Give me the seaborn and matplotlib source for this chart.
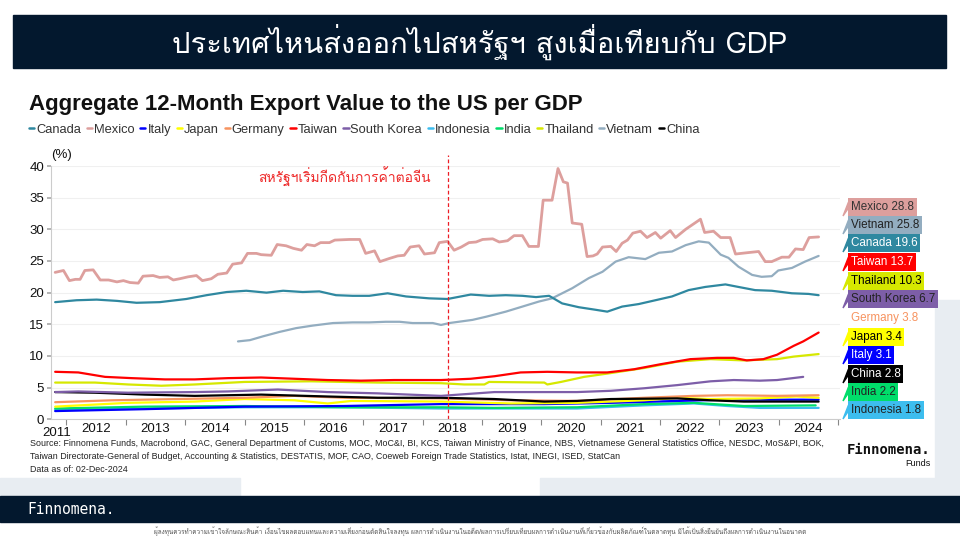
import numpy as np
import pandas as pd
import matplotlib
matplotlib.use("Agg")
import matplotlib.pyplot as plt
import seaborn as sns
from matplotlib import font_manager, ft2font
from matplotlib.lines import Line2D
from matplotlib.patches import Rectangle, Polygon

# ---- data (decimal year, % of GDP) ----
MEXICO = [(2011.81, 23.2), (2011.95, 23.5), (2012.05, 21.9), (2012.15, 22.1), (2012.23, 22.1),
          (2012.31, 23.5), (2012.45, 23.6), (2012.57, 22.0), (2012.71, 22.0), (2012.85, 21.7),
          (2012.96, 21.9), (2013.07, 21.6), (2013.21, 21.5), (2013.29, 22.6), (2013.46, 22.7),
          (2013.57, 22.4), (2013.71, 22.5), (2013.80, 22.0), (2013.91, 22.2), (2014.05, 22.5),
          (2014.19, 22.7), (2014.29, 21.9), (2014.44, 22.2), (2014.55, 22.9), (2014.70, 23.1),
          (2014.80, 24.5), (2014.95, 24.7), (2015.05, 26.2), (2015.20, 26.2), (2015.28, 26.0),
          (2015.45, 25.9), (2015.55, 27.6), (2015.70, 27.4), (2015.82, 27.0), (2015.96, 26.7),
          (2016.05, 27.6), (2016.18, 27.4), (2016.28, 27.9), (2016.43, 27.9), (2016.52, 28.3),
          (2016.77, 28.4), (2016.94, 28.4), (2017.04, 26.2), (2017.19, 26.6), (2017.28, 24.9),
          (2017.44, 25.4), (2017.58, 25.8), (2017.69, 25.9), (2017.79, 27.2), (2017.94, 27.4),
          (2018.03, 26.1), (2018.20, 26.3), (2018.28, 27.9), (2018.42, 28.1), (2018.53, 26.7),
          (2018.65, 27.2), (2018.78, 27.9), (2018.90, 28.0), (2019.01, 28.4), (2019.18, 28.5),
          (2019.29, 28.0), (2019.43, 28.2), (2019.54, 29.0), (2019.68, 29.0), (2019.79, 27.3),
          (2019.95, 27.3), (2020.03, 34.6), (2020.18, 34.6), (2020.28, 39.6), (2020.37, 37.5),
          (2020.44, 37.3), (2020.52, 31.0), (2020.68, 30.8), (2020.77, 25.7), (2020.87, 25.8),
          (2020.94, 26.1), (2021.03, 27.2), (2021.17, 27.3), (2021.26, 26.5), (2021.36, 27.8),
          (2021.45, 28.3), (2021.54, 29.4), (2021.67, 29.7), (2021.78, 28.7), (2021.92, 29.5),
          (2022.01, 28.6), (2022.17, 29.8), (2022.26, 28.7), (2022.43, 30.0), (2022.68, 31.6),
          (2022.75, 29.5), (2022.90, 29.7), (2023.02, 28.7), (2023.18, 28.7), (2023.27, 26.1),
          (2023.46, 26.3), (2023.66, 26.5), (2023.77, 24.9), (2023.88, 24.9), (2024.05, 25.6),
          (2024.17, 25.6), (2024.28, 26.9), (2024.41, 26.8), (2024.51, 28.7), (2024.67, 28.8)]
VIETNAM = [(2014.89, 12.3), (2015.09, 12.5), (2015.31, 13.1), (2015.59, 13.8), (2015.87, 14.4),
           (2016.15, 14.8), (2016.49, 15.2), (2016.82, 15.3), (2017.10, 15.3), (2017.38, 15.4),
           (2017.61, 15.4), (2017.83, 15.2), (2018.17, 15.2), (2018.31, 14.9), (2018.45, 15.2),
           (2018.84, 15.7), (2019.07, 16.2), (2019.40, 17.0), (2019.68, 17.8), (2019.96, 18.6),
           (2020.18, 19.1), (2020.52, 20.7), (2020.80, 22.3), (2021.03, 23.3), (2021.25, 24.9),
           (2021.47, 25.6), (2021.75, 25.3), (2021.98, 26.3), (2022.20, 26.5), (2022.43, 27.5),
           (2022.65, 28.1), (2022.82, 27.9), (2023.02, 26.0), (2023.15, 25.5), (2023.32, 24.1),
           (2023.55, 22.8), (2023.71, 22.5), (2023.88, 22.6), (2023.99, 23.5), (2024.22, 23.9),
           (2024.44, 24.9), (2024.67, 25.8)]
CANADA = [(2011.81, 18.5), (2012.17, 18.8), (2012.51, 18.9), (2012.85, 18.7), (2013.18, 18.4),
          (2013.57, 18.5), (2014.02, 19.0), (2014.36, 19.6), (2014.70, 20.1), (2015.03, 20.3),
          (2015.37, 20.0), (2015.65, 20.3), (2015.98, 20.1), (2016.26, 20.2), (2016.54, 19.6),
          (2016.82, 19.5), (2017.10, 19.5), (2017.41, 19.9), (2017.72, 19.4), (2018.11, 19.1),
          (2018.42, 19.0), (2018.81, 19.7), (2019.12, 19.5), (2019.40, 19.6), (2019.68, 19.5),
          (2019.91, 19.3), (2020.13, 19.5), (2020.35, 18.3), (2020.63, 17.7), (2020.91, 17.3),
          (2021.11, 17.0), (2021.36, 17.8), (2021.64, 18.2), (2021.92, 18.8), (2022.20, 19.4),
          (2022.48, 20.4), (2022.76, 20.9), (2023.10, 21.3), (2023.32, 20.9), (2023.60, 20.4),
          (2023.88, 20.3), (2024.22, 19.9), (2024.50, 19.8), (2024.67, 19.6)]
TAIWAN = [(2011.81, 7.5), (2012.20, 7.4), (2012.65, 6.7), (2013.10, 6.5), (2013.66, 6.3),
          (2014.16, 6.3), (2014.72, 6.5), (2015.28, 6.6), (2015.84, 6.4), (2016.40, 6.2),
          (2016.96, 6.1), (2017.52, 6.2), (2018.31, 6.2), (2018.81, 6.4), (2019.21, 6.8),
          (2019.65, 7.4), (2020.10, 7.5), (2020.60, 7.4), (2021.11, 7.4), (2021.56, 7.9),
          (2022.01, 8.7), (2022.51, 9.5), (2022.96, 9.7), (2023.24, 9.7), (2023.46, 9.3),
          (2023.74, 9.5), (2023.97, 10.2), (2024.25, 11.6), (2024.41, 12.3), (2024.67, 13.7)]
THAILAND = [(2011.81, 5.8), (2012.48, 5.8), (2013.04, 5.5), (2013.60, 5.3), (2014.16, 5.5),
            (2015.00, 5.9), (2016.12, 6.0), (2017.24, 5.8), (2018.31, 5.7), (2018.70, 5.5),
            (2019.04, 5.5), (2019.12, 5.9), (2020.05, 5.8), (2020.10, 5.5), (2020.33, 5.9),
            (2020.72, 6.7), (2021.17, 7.3), (2021.73, 8.1), (2022.29, 9.1), (2022.85, 9.5),
            (2023.41, 9.3), (2023.97, 9.5), (2024.25, 9.9), (2024.67, 10.3)]
SOUTH_KOREA = [(2011.81, 4.3), (2012.20, 4.4), (2013.04, 4.2), (2014.16, 4.3), (2014.72, 4.4),
               (2015.56, 4.7), (2016.40, 4.3), (2017.24, 4.1), (2018.31, 3.7), (2019.21, 4.3),
               (2020.05, 4.3), (2020.60, 4.3), (2021.17, 4.5), (2021.73, 4.9), (2022.29, 5.4),
               (2022.85, 6.0), (2023.24, 6.2), (2023.68, 6.1), (2023.97, 6.2), (2024.41, 6.7)]
GERMANY = [(2011.81, 2.7), (2012.76, 3.0), (2013.88, 3.2), (2015.00, 3.4), (2015.84, 3.7),
           (2016.68, 3.4), (2018.31, 3.3), (2019.49, 3.0), (2020.60, 2.9), (2021.73, 3.4),
           (2022.57, 3.7), (2023.13, 3.8), (2023.97, 3.7), (2024.67, 3.8)]
CHINA = [(2011.81, 4.3), (2012.48, 4.2), (2013.32, 3.9), (2014.16, 3.7), (2015.28, 3.9),
         (2016.40, 3.6), (2017.24, 3.4), (2018.31, 3.4), (2019.21, 3.2), (2020.05, 2.8),
         (2020.60, 2.9), (2021.17, 3.2), (2022.29, 3.3), (2022.85, 3.0), (2023.41, 2.8),
         (2024.67, 2.8)]
JAPAN = [(2011.81, 2.0), (2013.04, 2.6), (2014.16, 2.8), (2015.00, 3.2), (2015.84, 3.0),
         (2016.40, 2.5), (2016.80, 2.9), (2018.31, 2.8), (2019.49, 2.5), (2020.60, 2.6),
         (2021.73, 3.0), (2022.29, 3.4), (2022.85, 3.2), (2023.68, 3.3), (2024.30, 3.6),
         (2024.67, 3.4)]
ITALY = [(2011.81, 1.3), (2013.32, 1.6), (2015.00, 2.0), (2016.68, 2.1), (2018.31, 2.4),
         (2020.05, 2.4), (2021.17, 2.6), (2022.29, 2.9), (2023.13, 3.1), (2024.67, 3.1)]
INDIA = [(2011.81, 1.7), (2013.32, 2.0), (2015.00, 2.1), (2016.68, 1.9), (2018.31, 1.9),
         (2019.21, 1.8), (2020.60, 1.9), (2021.73, 2.4), (2022.57, 2.6), (2023.41, 2.1),
         (2024.62, 2.2)]
INDONESIA = [(2011.81, 1.5), (2013.32, 1.7), (2015.00, 1.9), (2016.68, 1.9), (2018.31, 1.7),
             (2019.49, 1.7), (2020.60, 1.7), (2021.73, 2.2), (2022.57, 2.5), (2023.13, 2.1),
             (2023.68, 1.8), (2024.67, 1.8)]

LEGEND_ORDER = ["Canada", "Mexico", "Italy", "Japan", "Germany", "Taiwan", "South Korea",
                "Indonesia", "India", "Thailand", "Vietnam", "China"]
TAG_ORDER = ["Mexico", "Vietnam", "Canada", "Taiwan", "Thailand", "South Korea", "Germany",
             "Japan", "Italy", "China", "India", "Indonesia"]
SERIES = {"Canada": CANADA, "Mexico": MEXICO, "Italy": ITALY, "Japan": JAPAN,
          "Germany": GERMANY, "Taiwan": TAIWAN, "South Korea": SOUTH_KOREA,
          "Indonesia": INDONESIA, "India": INDIA, "Thailand": THAILAND,
          "Vietnam": VIETNAM, "China": CHINA}
COLORS = {"Canada": "#2f88a0", "Mexico": "#dd9f9d", "Italy": "#0000ff", "Japan": "#ffff00",
          "Germany": "#f7935f", "Taiwan": "#ff0000", "South Korea": "#7d5ea8",
          "Indonesia": "#3dbdee", "India": "#00dd6a", "Thailand": "#d6e800",
          "Vietnam": "#93adc0", "China": "#000000"}
TAG_TEXT = {"Canada": "white", "Mexico": "#333333", "Italy": "white", "Japan": "black",
            "Germany": "#f7935f", "Taiwan": "white", "South Korea": "#222222",
            "Indonesia": "#222222", "India": "#222222", "Thailand": "black",
            "Vietnam": "#222222", "China": "white"}
TRADE_WAR = 2018.43
YEARS = list(range(2012, 2025))

TITLE_TH = "ประเทศไหนส่งออกไปสหรัฐฯ สูงเมื่อเทียบกับ GDP"
NOTE_TH = "สหรัฐฯเริ่มกีดกันการค้าต่อจีน"
DISCLAIMER_TH = ("ผู้ลงทุนควรทำความเข้าใจลักษณะสินค้า เงื่อนไขผลตอบแทนและความเสี่ยงก่อนตัดสินใจลงทุน "
                 "ผลการดำเนินงานในอดีต/ผลการเปรียบเทียบผลการดำเนินงานที่เกี่ยวข้องกับผลิตภัณฑ์ในตลาดทุน "
                 "มิได้เป็นสิ่งยืนยันถึงผลการดำเนินงานในอนาคต")
SOURCE = ["Source: Finnomena Funds, Macrobond, GAC, General Department of Customs, MOC, MoC&I, BI, KCS, "
          "Taiwan Ministry of Finance, NBS, Vietnamese General Statistics Office, NESDC, MoS&PI, BOK,",
          "Taiwan Directorate-General of Budget, Accounting & Statistics, DESTATIS, MOF, CAO, Coeweb "
          "Foreign Trade Statistics, Istat, INEGI, ISED, StatCan",
          "Data as of: 02-Dec-2024"]


def find_thai_font():
    for f in font_manager.fontManager.ttflist:
        try:
            cmap = ft2font.FT2Font(f.fname).get_charmap()
        except Exception:
            continue
        if 0x0E01 in cmap and 0x0E40 in cmap:
            return f.name
    return None


sns.set_theme(style="white")
plt.rcParams['font.family'] = ['Liberation Sans', 'DejaVu Sans']
thai = find_thai_font()
THAI_FAM = [thai, 'DejaVu Sans'] if thai else ['DejaVu Sans']

NAVY = "#03182e"
PANEL = "#e8edf2"

rows = []
for name, pts in SERIES.items():
    for t, v in pts:
        rows.append({"country": name, "year": t, "value": v})
df = pd.DataFrame(rows)

W, H = 960, 540
fig = plt.figure(figsize=(9.6, 5.4), dpi=100)
fig.patch.set_facecolor("white")


def px(x, y):
    return x / W, 1 - y / H


def frect(x0, y0, x1, y1, color):
    fig.patches.append(Rectangle(px(x0, y1), (x1 - x0) / W, (y1 - y0) / H,
                                 transform=fig.transFigure, color=color, zorder=0))


# slide decoration
frect(0, 478, 240, 496, PANEL)
frect(540, 478, 960, 496, PANEL)
frect(935, 300, 960, 496, PANEL)
frect(13, 15, 946, 68, NAVY)
frect(0, 496, 960, 522, NAVY)
fig.text(*px(480, 42), TITLE_TH, color="white", fontsize=21, ha="center", va="center",
         family=THAI_FAM)
fig.text(*px(27, 509), "Finnomena.", color="white", fontsize=10.5, ha="left", va="center",
         family="DejaVu Sans Mono")
fig.text(*px(480, 531), DISCLAIMER_TH, color="#555555", fontsize=4.6, ha="center", va="center",
         family=THAI_FAM)

# chart title and legend
fig.text(*px(29, 104), "Aggregate 12-Month Export Value to the US per GDP", fontsize=16,
         fontweight="bold", color="#111111", ha="left", va="center")
handles = [Line2D([], [], color=COLORS[c], lw=1.8) for c in LEGEND_ORDER]
fig.legend(handles, LEGEND_ORDER, loc="center left", bbox_to_anchor=px(29, 130), ncol=12,
           frameon=False, fontsize=9.3, handlelength=0.4, handletextpad=0.15,
           columnspacing=0.45, labelcolor="#333333", borderaxespad=0, borderpad=0)

# main axes
ax = fig.add_axes([51 / W, 1 - 419.3 / H, (840 - 51) / W, (419.3 - 166) / H])
ax.set_facecolor("white")
order = ["Mexico", "Vietnam", "Canada", "Indonesia", "India", "Italy", "Japan", "Germany",
         "China", "South Korea", "Thailand", "Taiwan"]
sns.lineplot(data=df, x="year", y="value", hue="country", hue_order=order, palette=COLORS,
             estimator=None, sort=True, linewidth=1.6, legend=False, ax=ax)
for ln in ax.get_lines():
    ln.set_solid_capstyle("round")
ax.get_lines()[0].set_linewidth(2.0)

ax.set_xlim(2011.74, 2025.03)
ax.set_ylim(0, 40)
ax.set_yticks(range(0, 41, 5))
ax.yaxis.grid(True, color="#f0f0f0", lw=0.8)
ax.set_xticks(YEARS + [2025])
ax.set_xticklabels([])
ax.set_xticks([y + 0.5 for y in YEARS], minor=True)
ax.set_xticklabels([str(y) for y in YEARS], minor=True)
ax.tick_params(axis="x", which="major", direction="out", length=4, color="#888888", width=0.8,
               bottom=True)
ax.tick_params(axis="x", which="minor", length=0, labelsize=9.5, pad=3, labelcolor="#111111")
ax.tick_params(axis="y", direction="out", length=3, color="#aaaaaa", left=True, labelsize=9.5,
               labelcolor="#111111", pad=2)
for s in ["top", "right"]:
    ax.spines[s].set_visible(False)
for s in ["left", "bottom"]:
    ax.spines[s].set_color("#cccccc")
    ax.spines[s].set_linewidth(0.8)
ax.set_xlabel("")
ax.set_ylabel("")
ax.text(2011.84, -0.03, "2011", transform=ax.get_xaxis_transform(), fontsize=9.5, ha="center",
        va="top", color="#111111")
ax.text(0.0, 1.02, "(%)", transform=ax.transAxes, fontsize=9.5, ha="left", va="bottom",
        color="#111111")

ax.axvline(TRADE_WAR, ymin=0, ymax=41.7 / 40, color="#ee1c25", ls=(0, (3, 2)), lw=0.9,
           clip_on=False)
ax.text(TRADE_WAR - 0.3, 38.2, NOTE_TH, color="#ee2a2a", fontsize=10, ha="right", va="center",
        family=THAI_FAM)

# end-of-line value tags
tag_y = [207, 225, 243, 262, 281, 299, 318, 337, 355, 374, 392, 410]
for name, yp in zip(TAG_ORDER, tag_y):
    last = SERIES[name][-1][1]
    label = f"{name} {last:.1f}"
    x0 = 851
    if name == "Germany":
        fig.text(*px(x0, yp), label, fontsize=8.4, color=TAG_TEXT[name], ha="left", va="center")
        continue
    fig.text(*px(x0, yp), label, fontsize=8.4, color=TAG_TEXT[name], ha="left", va="center",
             bbox=dict(boxstyle="square,pad=0.22", fc=COLORS[name], ec="none"))
    tri = [px(848.5, yp - 5), px(848.5, yp + 1), px(843, yp + 9)]
    fig.patches.append(Polygon(tri, closed=True, transform=fig.transFigure,
                               color=COLORS[name], zorder=3))

# source & logo
for i, line in enumerate(SOURCE):
    fig.text(*px(30, 444 + i * 12.5), line, fontsize=6.4, color="#222222", ha="left",
             va="center")
fig.text(*px(930, 450), "Finnomena.", fontsize=10, fontweight="bold", color="#111111",
         ha="right", va="center", family="DejaVu Sans Mono")
fig.text(*px(930, 463), "Funds", fontsize=6.5, color="#111111", ha="right", va="center")

fig.savefig("out.png", dpi=100)
